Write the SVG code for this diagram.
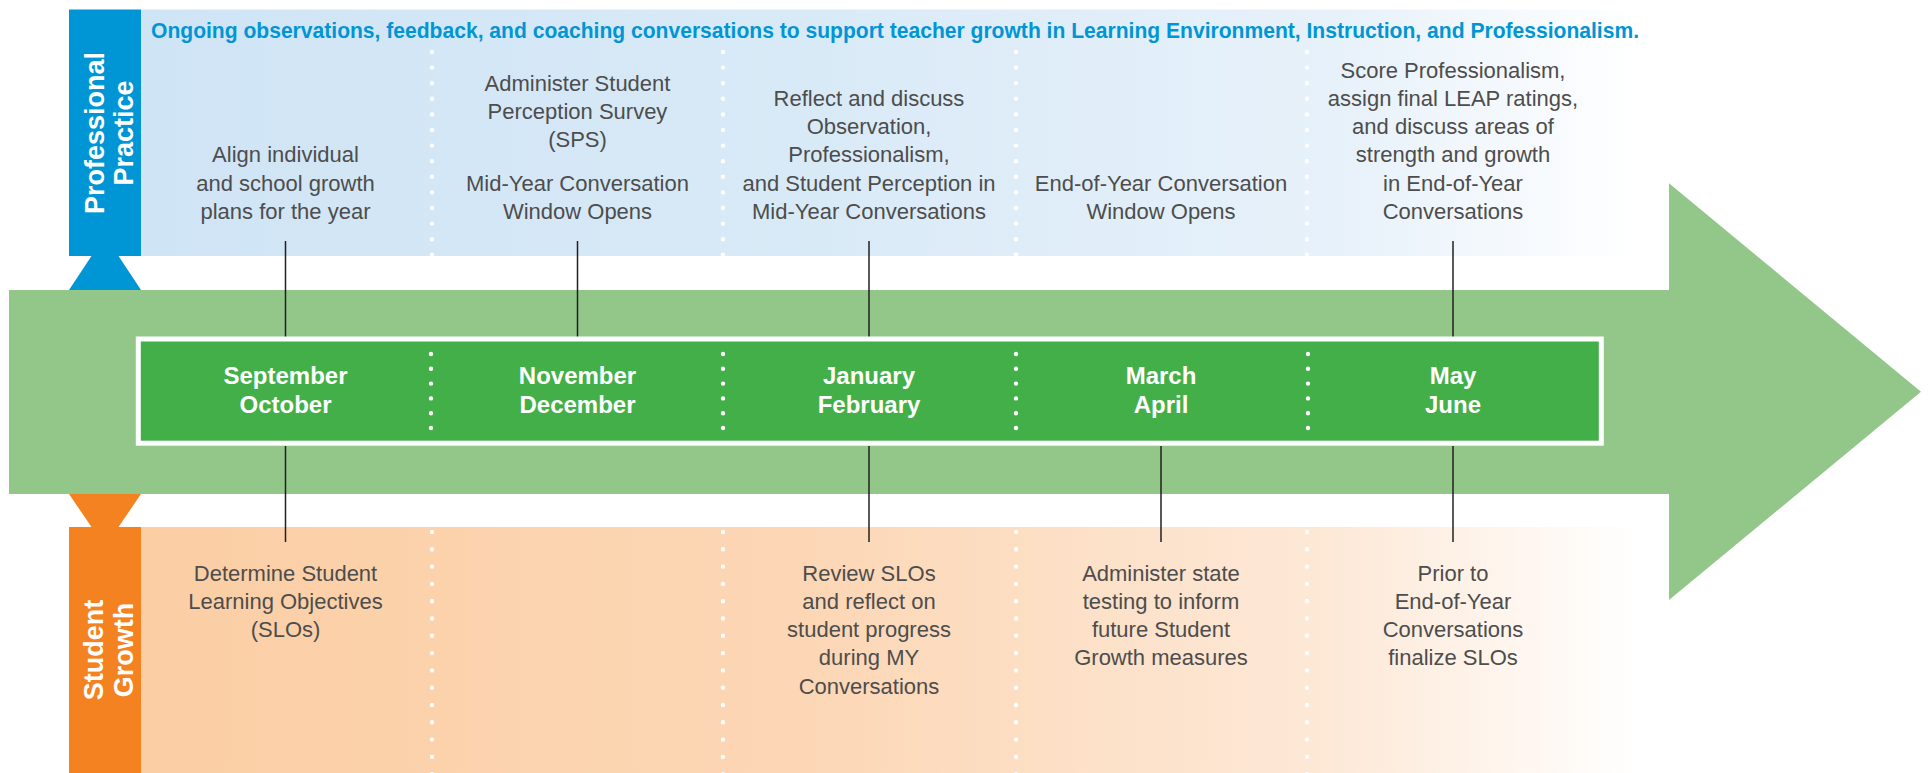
<svg xmlns="http://www.w3.org/2000/svg" width="1929" height="773" viewBox="0 0 1929 773">
<defs>
<linearGradient id="blueFade" gradientUnits="userSpaceOnUse" x1="141" y1="0" x2="1640" y2="0">
<stop offset="0" stop-color="#CFE4F5"/>
<stop offset="0.45" stop-color="#D9EAF7"/>
<stop offset="0.8" stop-color="#E7F1FA"/>
<stop offset="1" stop-color="#FFFFFF"/>
</linearGradient>
<linearGradient id="orangeFade" gradientUnits="userSpaceOnUse" x1="141" y1="0" x2="1640" y2="0">
<stop offset="0" stop-color="#FBCEA4"/>
<stop offset="0.45" stop-color="#FCD7B6"/>
<stop offset="0.8" stop-color="#FDE9D8"/>
<stop offset="1" stop-color="#FFFFFF"/>
</linearGradient>
</defs>
<style>
.body{font-family:"Liberation Sans",Arial,sans-serif;font-size:22px;fill:#4D4D4D;text-anchor:middle}
.month{font-family:"Liberation Sans",Arial,sans-serif;font-size:24px;font-weight:bold;fill:#FFFFFF;text-anchor:middle}
.side{font-family:"Liberation Sans",Arial,sans-serif;font-size:27px;font-weight:bold;fill:#FFFFFF;text-anchor:middle}
.head{font-family:"Liberation Sans",Arial,sans-serif;font-size:22px;font-weight:bold;fill:#0096D6}
.dots{stroke:#FFFFFF;stroke-width:4.4;stroke-linecap:round;fill:none}
.conn{stroke:#231F20;stroke-width:1.5;fill:none}
</style>

<g id="background-arrow">
<polygon points="9,290 1669,290 1669,183.3 1921,391.7 1669,600 1669,494 9,494" fill="#93C78A"/>
</g>

<g id="professional-practice">
<rect x="141" y="9.5" width="1499" height="246.5" fill="url(#blueFade)"/>
<rect x="69" y="9.5" width="72" height="246.5" fill="#0096D6"/>
<polygon points="69,290 141,290 118.5,256 91.5,256" fill="#0096D6"/>
<text class="side" transform="translate(103.5,133) rotate(-90)">Professional</text>
<text class="side" transform="translate(133,133) rotate(-90)">Practice</text>
<text class="head" x="151" y="38" textLength="1488" lengthAdjust="spacingAndGlyphs">Ongoing observations, feedback, and coaching conversations to support teacher growth in Learning Environment, Instruction, and Professionalism.</text>
<g class="dots" stroke-dasharray="0 15.6">
<line x1="432" y1="52" x2="432" y2="256"/>
<line x1="723" y1="52" x2="723" y2="256"/>
<line x1="1016" y1="52" x2="1016" y2="256"/>
<line x1="1307" y1="52" x2="1307" y2="256"/>
</g>
</g>

<g id="student-growth">
<rect x="141" y="527" width="1499" height="246" fill="url(#orangeFade)"/>
<rect x="69" y="527" width="72" height="246" fill="#F58220"/>
<polygon points="69,494 141,494 118.5,527 91.5,527" fill="#F58220"/>
<text class="side" transform="translate(103,650) rotate(-90)">Student</text>
<text class="side" transform="translate(133,650) rotate(-90)">Growth</text>
<g class="dots" stroke-dasharray="0 17.3">
<line x1="432" y1="532" x2="432" y2="775"/>
<line x1="723" y1="532" x2="723" y2="775"/>
<line x1="1016" y1="532" x2="1016" y2="775"/>
<line x1="1307" y1="532" x2="1307" y2="775"/>
</g>
</g>

<g id="connectors">
<line class="conn" x1="285.5" y1="241" x2="285.5" y2="337"/>
<line class="conn" x1="577.5" y1="241" x2="577.5" y2="337"/>
<line class="conn" x1="869" y1="241" x2="869" y2="337"/>
<line class="conn" x1="1453" y1="241" x2="1453" y2="337"/>
<line class="conn" x1="285.5" y1="446" x2="285.5" y2="542"/>
<line class="conn" x1="869" y1="446" x2="869" y2="542"/>
<line class="conn" x1="1161" y1="446" x2="1161" y2="542"/>
<line class="conn" x1="1453" y1="446" x2="1453" y2="542"/>
</g>

<g id="timeline-bar">
<rect x="138.3" y="339" width="1463" height="104.2" fill="#43AF48" stroke="#FFFFFF" stroke-width="5"/>
<g class="dots" stroke-dasharray="0 14.8">
<line x1="431" y1="354" x2="431" y2="432"/>
<line x1="723" y1="354" x2="723" y2="432"/>
<line x1="1016" y1="354" x2="1016" y2="432"/>
<line x1="1308" y1="354" x2="1308" y2="432"/>
</g>
</g>

<g id="sep-oct">
<text class="month" x="285.5" y="383.5">September</text>
<text class="month" x="285.5" y="413">October</text>
<text class="body" x="285.5" y="162.3">Align individual</text>
<text class="body" x="285.5" y="190.5">and school growth</text>
<text class="body" x="285.5" y="218.7">plans for the year</text>
<text class="body" x="285.5" y="580.7">Determine Student</text>
<text class="body" x="285.5" y="609">Learning Objectives</text>
<text class="body" x="285.5" y="637">(SLOs)</text>
</g>

<g id="nov-dec">
<text class="month" x="577.5" y="383.5">November</text>
<text class="month" x="577.5" y="413">December</text>
<text class="body" x="577.5" y="91">Administer Student</text>
<text class="body" x="577.5" y="119">Perception Survey</text>
<text class="body" x="577.5" y="147">(SPS)</text>
<text class="body" x="577.5" y="190.5">Mid-Year Conversation</text>
<text class="body" x="577.5" y="218.7">Window Opens</text>
</g>

<g id="jan-feb">
<text class="month" x="869" y="383.5">January</text>
<text class="month" x="869" y="413">February</text>
<text class="body" x="869" y="106">Reflect and discuss</text>
<text class="body" x="869" y="134">Observation,</text>
<text class="body" x="869" y="162.3">Professionalism,</text>
<text class="body" x="869" y="190.5">and Student Perception in</text>
<text class="body" x="869" y="218.7">Mid-Year Conversations</text>
<text class="body" x="869" y="580.7">Review SLOs</text>
<text class="body" x="869" y="609">and reflect on</text>
<text class="body" x="869" y="637">student progress</text>
<text class="body" x="869" y="665.3">during MY</text>
<text class="body" x="869" y="693.5">Conversations</text>
</g>

<g id="mar-apr">
<text class="month" x="1161" y="383.5">March</text>
<text class="month" x="1161" y="413">April</text>
<text class="body" x="1161" y="190.5">End-of-Year Conversation</text>
<text class="body" x="1161" y="218.7">Window Opens</text>
<text class="body" x="1161" y="580.7">Administer state</text>
<text class="body" x="1161" y="609">testing to inform</text>
<text class="body" x="1161" y="637">future Student</text>
<text class="body" x="1161" y="665.3">Growth measures</text>
</g>

<g id="may-jun">
<text class="month" x="1453" y="383.5">May</text>
<text class="month" x="1453" y="413">June</text>
<text class="body" x="1453" y="77.7">Score Professionalism,</text>
<text class="body" x="1453" y="106">assign final LEAP ratings,</text>
<text class="body" x="1453" y="134">and discuss areas of</text>
<text class="body" x="1453" y="162.3">strength and growth</text>
<text class="body" x="1453" y="190.5">in End-of-Year</text>
<text class="body" x="1453" y="218.7">Conversations</text>
<text class="body" x="1453" y="580.7">Prior to</text>
<text class="body" x="1453" y="609">End-of-Year</text>
<text class="body" x="1453" y="637">Conversations</text>
<text class="body" x="1453" y="665.3">finalize SLOs</text>
</g>
</svg>
